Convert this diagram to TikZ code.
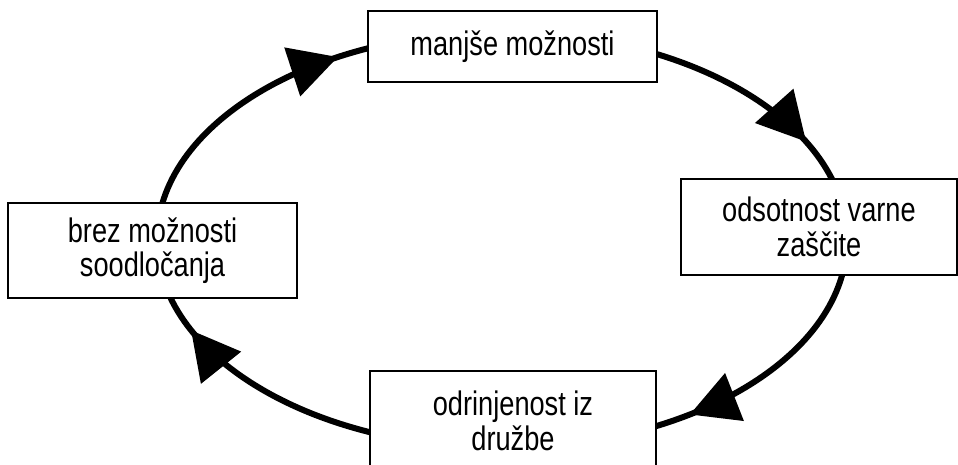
\documentclass[tikz,border=0pt]{standalone}
\usepackage{fontspec}
\setmainfont{Liberation Sans}[FakeStretch=0.8]
\usetikzlibrary{arrows.meta,decorations.markings}
\begin{document}
\begin{tikzpicture}[x=1pt,y=1pt,
  box/.style={draw=black, line width=1.6pt, fill=white, inner sep=0pt,
    align=center, font=\fontsize{34}{34.6}\selectfont},
  cyc/.style={line width=6pt, draw=black,
    decoration={markings, mark=at position #1 with {\arrow{Triangle[length=48pt,width=50pt]}}},
    postaction={decorate}}]
\useasboundingbox (0,0) rectangle (958,464);
% named points on the cycle ellipse, under each box
\coordinate (eW) at (157,224);
\coordinate (eN) at (502,432);
\coordinate (eE) at (847,224);
\coordinate (eS) at (502,16);
% connectors
\draw[cyc=0.622] (eW) arc[start angle=180, end angle=90, x radius=345pt, y radius=208pt];
\draw[cyc=0.753] (eN) arc[start angle=90, end angle=0, x radius=345pt, y radius=208pt];
\draw[cyc=0.565] (eE) arc[start angle=0, end angle=-90, x radius=345pt, y radius=208pt];
\draw[cyc=0.777] (eS) arc[start angle=-90, end angle=-180, x radius=345pt, y radius=208pt];
% boxes
\node[box, minimum width=289pt, minimum height=71pt] (T) at (512.5,417.5) {manjše možnosti};
\node[box, minimum width=276pt, minimum height=96pt] (R) at (819,237) {odsotnost varne\\zaščite};
\node[box, minimum width=289pt, minimum height=95pt] (L) at (152.5,213.5) {brez možnosti\\soodločanja};
\node[box, minimum width=286pt, minimum height=100pt] (B) at (513,43) {odrinjenost iz\\družbe};
\end{tikzpicture}
\end{document}
